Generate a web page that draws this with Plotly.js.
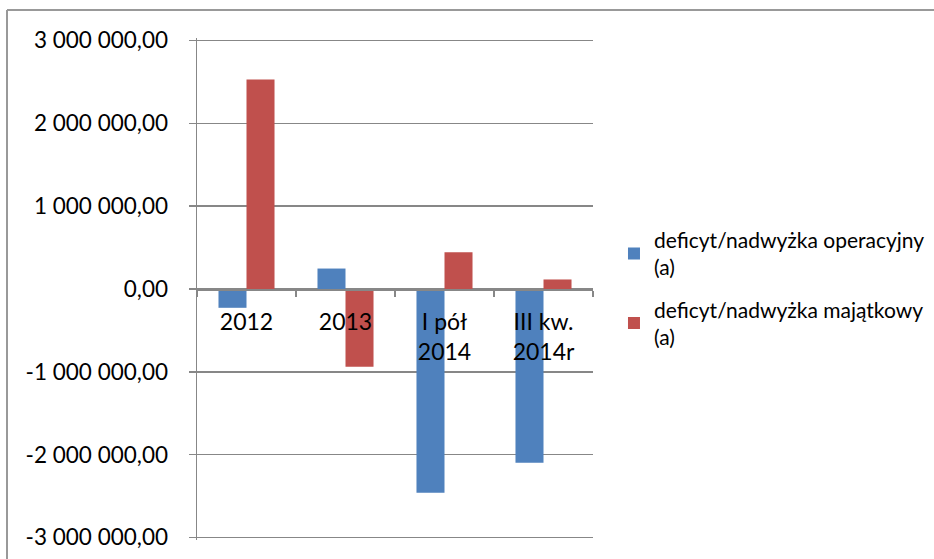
<!DOCTYPE html>
<html>
<head>
<meta charset="utf-8">
<script src="https://cdn.plot.ly/plotly-3.0.1.min.js"></script>
<style>
  html, body { margin: 0; padding: 0; background: #ffffff; }
  #chart { width: 934px; height: 559px; }
</style>
</head>
<body>
<div id="chart"></div>
<script>
// Categories (periods) and the two budget balances
const categories = ['2012', '2013', 'I pół<br>2014', 'III kw.<br>2014r'];
const operacyjny = [-227000, 247000, -2460000, -2098000];
const majatkowy = [2529000, -939000, 444000, 115000];

const seriesNames = [
  'deficyt/nadwyżka operacyjny<br>(a)',
  'deficyt/nadwyżka majątkowy<br>(a)'
];

const yTickVals = [3000000, 2000000, 1000000, 0, -1000000, -2000000, -3000000];
const yTickText = ['3 000 000,00', '2 000 000,00', '1 000 000,00', '0,00',
                   '-1 000 000,00', '-2 000 000,00', '-3 000 000,00'];

const FONT = 'Lato, "Open Sans", sans-serif';
const GRID = '#878787';

const traces = [
  { type: 'bar', name: seriesNames[0], legendgroup: 'operacyjny',
    x: categories, y: operacyjny,
    marker: { color: '#4F81BD', line: { width: 0 } } },
  { type: 'bar', name: seriesNames[1], legendgroup: 'majatkowy',
    x: categories, y: majatkowy,
    marker: { color: '#C0504D', line: { width: 0 } } }
];

const layout = {
  width: 934,
  height: 559,
  margin: { l: 197, r: 341, t: 38, b: 19, pad: 0, autoexpand: false },
  paper_bgcolor: '#ffffff',
  plot_bgcolor: '#ffffff',
  font: { family: FONT, size: 21, color: '#000000' },
  barmode: 'group',
  bargap: 0.434,
  bargroupgap: 0,
  showlegend: true,
  legend: {
    x: 1.053, xanchor: 'left',
    y: 0.638, yanchor: 'top',
    font: { family: FONT, size: 21, color: '#000000' },
    tracegroupgap: 12,
    itemclick: false
  },
  xaxis: {
    type: 'category',
    anchor: 'free',
    position: 0.5,
    showline: true,
    linecolor: GRID,
    linewidth: 1.5,
    showgrid: false,
    zeroline: false,
    ticks: 'outside',
    ticklen: 6,
    tickwidth: 1.5,
    tickcolor: GRID,
    tickson: 'boundaries',
    ticklabelstandoff: 12,
    tickfont: { family: FONT, size: 23, color: '#000000' },
    layer: 'above traces'
  },
  yaxis: {
    range: [-3030000, 3030000],
    tickvals: yTickVals,
    ticktext: yTickText,
    showline: true,
    linecolor: GRID,
    linewidth: 1.5,
    showgrid: true,
    gridcolor: GRID,
    gridwidth: 1.5,
    zeroline: false,
    ticks: 'outside',
    ticklen: 7,
    tickwidth: 1.5,
    tickcolor: GRID,
    ticklabelstandoff: 16,
    tickfont: { family: FONT, size: 22.5, color: '#000000' }
  },
  shapes: [
    // outer chart frame (top and left edges)
    { type: 'line', xref: 'paper', yref: 'paper',
      x0: -0.4798, x1: 1.9, y0: 1.0558, y1: 1.0558,
      line: { color: '#999999', width: 2 } },
    { type: 'line', xref: 'paper', yref: 'paper',
      x0: -0.4798, x1: -0.4798, y0: 1.0558, y1: -0.1,
      line: { color: '#999999', width: 2 } }
  ]
};

Plotly.newPlot('chart', traces, layout, { displayModeBar: false, staticPlot: true });
</script>
</body>
</html>
